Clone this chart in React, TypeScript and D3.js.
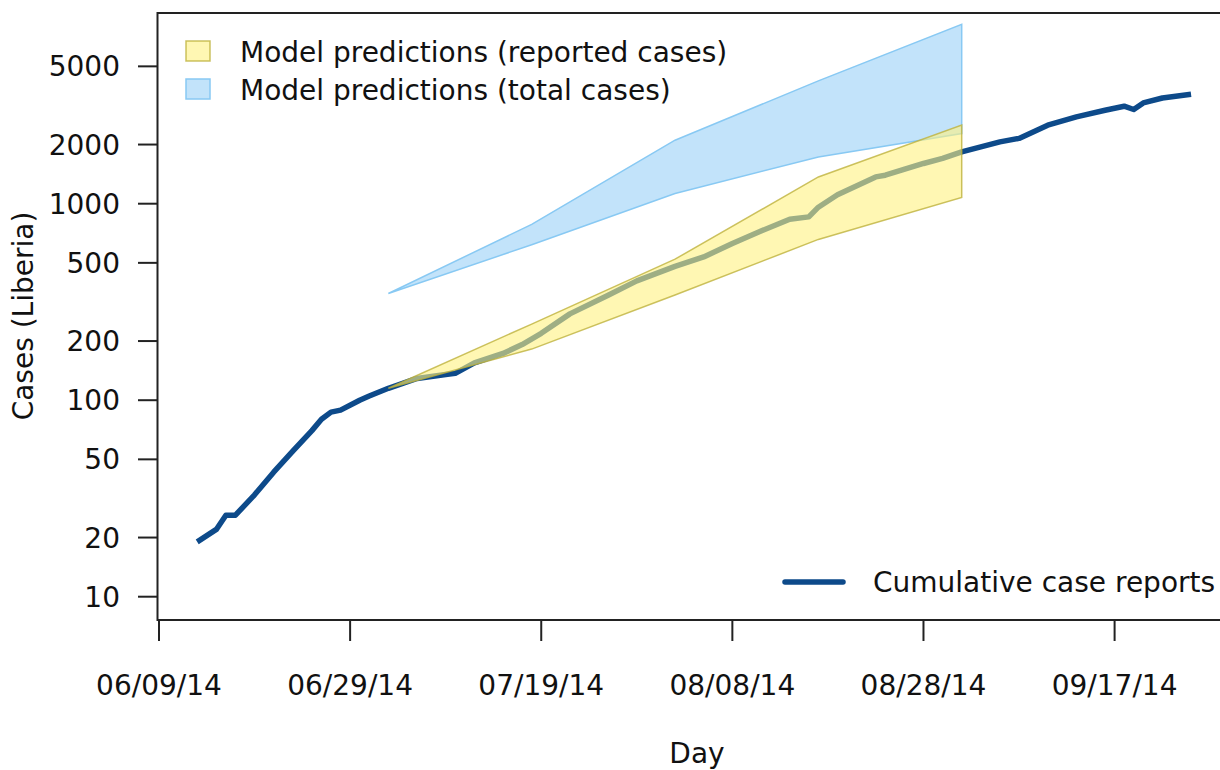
import * as d3 from 'd3';

// cumulative case reports, Liberia
const caseDates = [
  '2014-06-13', '2014-06-15', '2014-06-16', '2014-06-17', '2014-06-19', '2014-06-21',
  '2014-06-23', '2014-06-25', '2014-06-26', '2014-06-27', '2014-06-28', '2014-06-30',
  '2014-07-01', '2014-07-03', '2014-07-06', '2014-07-09', '2014-07-10', '2014-07-12',
  '2014-07-15', '2014-07-17', '2014-07-19', '2014-07-22', '2014-07-26', '2014-07-29',
  '2014-08-02', '2014-08-05', '2014-08-08', '2014-08-11', '2014-08-14', '2014-08-16',
  '2014-08-17', '2014-08-19', '2014-08-23', '2014-08-24', '2014-08-28', '2014-08-30',
  '2014-09-01', '2014-09-03', '2014-09-05', '2014-09-07', '2014-09-10', '2014-09-13',
  '2014-09-16', '2014-09-18', '2014-09-19', '2014-09-20', '2014-09-22', '2014-09-25'
];
const caseValues = [
  19, 22, 26, 26, 33, 43,
  55, 70, 80, 87, 89, 100,
  105, 115, 129, 135, 137, 155,
  173, 192, 219, 275, 342, 405,
  480, 536, 627, 726, 834, 857,
  960, 1110, 1369, 1396, 1602, 1700,
  1834, 1945, 2064, 2150, 2508, 2765,
  2990, 3134, 3016, 3258, 3450, 3609
];

// model prediction bands
const predDates = ['2014-07-03', '2014-07-18', '2014-08-02', '2014-08-17', '2014-09-01'];
const reportedLow = [115, 182, 343, 658, 1076];
const reportedHigh = [115, 244, 522, 1368, 2514];
const totalLow = [349, 618, 1127, 1730, 2275];
const totalHigh = [349, 785, 2104, 4218, 8185];

const yTicks = [10, 20, 50, 100, 200, 500, 1000, 2000, 5000];
const xTicks = ['2014-06-09', '2014-06-29', '2014-07-19', '2014-08-08', '2014-08-28', '2014-09-17'];

const legendLabels = ['Model predictions (reported cases)', 'Model predictions (total cases)'];
const lineLabel = 'Cumulative case reports';

const parse = d3.timeParse('%Y-%m-%d');
const fmt = d3.timeFormat('%m/%d/%y');

export default function App() {
  const W = 1220, H = 770;
  const left = 157.5, right = 1236, top = 13, bottom = 620;
  const font = "'DejaVu Sans', Verdana, sans-serif";

  const x = d3.scaleTime()
    .domain([parse('2014-06-09')!, parse('2014-09-17')!])
    .range([159, 1114.6]);
  const y = d3.scaleLog().domain([10, 10000]).range([596.7, 7.2]);

  const cases = caseDates.map((d, i) => ({ date: parse(d)!, v: caseValues[i] }));
  const reported = predDates.map((d, i) => ({ date: parse(d)!, lo: reportedLow[i], hi: reportedHigh[i] }));
  const total = predDates.map((d, i) => ({ date: parse(d)!, lo: totalLow[i], hi: totalHigh[i] }));

  const line = d3.line<{ date: Date; v: number }>()
    .x(d => x(d.date))
    .y(d => y(d.v));
  const band = d3.area<{ date: Date; lo: number; hi: number }>()
    .x(d => x(d.date))
    .y0(d => y(d.lo))
    .y1(d => y(d.hi));

  const yellowFill = 'rgba(255,242,128,0.6)';
  const yellowStroke = 'rgba(190,178,60,0.8)';
  const blueFill = 'rgba(150,206,246,0.58)';
  const blueStroke = '#88c9f3';
  const lineColor = '#0d4a8a';

  return (
    <svg width={W} height={H} style={{ position: 'absolute', left: 0, top: 0, background: '#fff' }}
      fontFamily={font}>
      <path d={line(cases)!} fill="none" stroke={lineColor} strokeWidth={5.5} strokeLinejoin="round" />
      <path d={band(total)!} fill={blueFill} stroke={blueStroke} strokeWidth={1.5} />
      <path d={band(reported)!} fill={yellowFill} stroke={yellowStroke} strokeWidth={1.5} />

      {/* box */}
      <rect x={left} y={top} width={right - left} height={bottom - top} fill="none" stroke="#222" strokeWidth={2} />

      {/* y axis */}
      {yTicks.map(t => (
        <g key={t}>
          <line x1={138} x2={left} y1={y(t)} y2={y(t)} stroke="#222" strokeWidth={2} />
          <text x={120} y={y(t)} dy="0.36em" textAnchor="end" fontSize={28} fill="#111">{t}</text>
        </g>
      ))}

      {/* x axis */}
      {xTicks.map(t => {
        const px = x(parse(t)!);
        return (
          <g key={t}>
            <line x1={px} x2={px} y1={bottom} y2={641} stroke="#222" strokeWidth={2} />
            <text x={px} y={695} textAnchor="middle" fontSize={28} fill="#111">{fmt(parse(t)!)}</text>
          </g>
        );
      })}

      <text x={697} y={763} textAnchor="middle" fontSize={28} fill="#111">Day</text>
      <text transform="translate(33,316) rotate(-90)" textAnchor="middle" fontSize={28} fill="#111">Cases (Liberia)</text>

      {/* legend top-left */}
      <rect x={186} y={41} width={24} height={20} fill={yellowFill} stroke={yellowStroke} strokeWidth={1.5} />
      <text x={240} y={61.5} fontSize={28} fill="#111">{legendLabels[0]}</text>
      <rect x={186} y={79} width={24} height={20} fill={blueFill} stroke={blueStroke} strokeWidth={1.5} />
      <text x={240} y={99.5} fontSize={28} fill="#111">{legendLabels[1]}</text>

      {/* legend bottom-right */}
      <line x1={785} x2={843} y1={582} y2={582} stroke={lineColor} strokeWidth={5.5} strokeLinecap="round" />
      <text x={873} y={592} fontSize={28} fill="#111">{lineLabel}</text>
    </svg>
  );
}
